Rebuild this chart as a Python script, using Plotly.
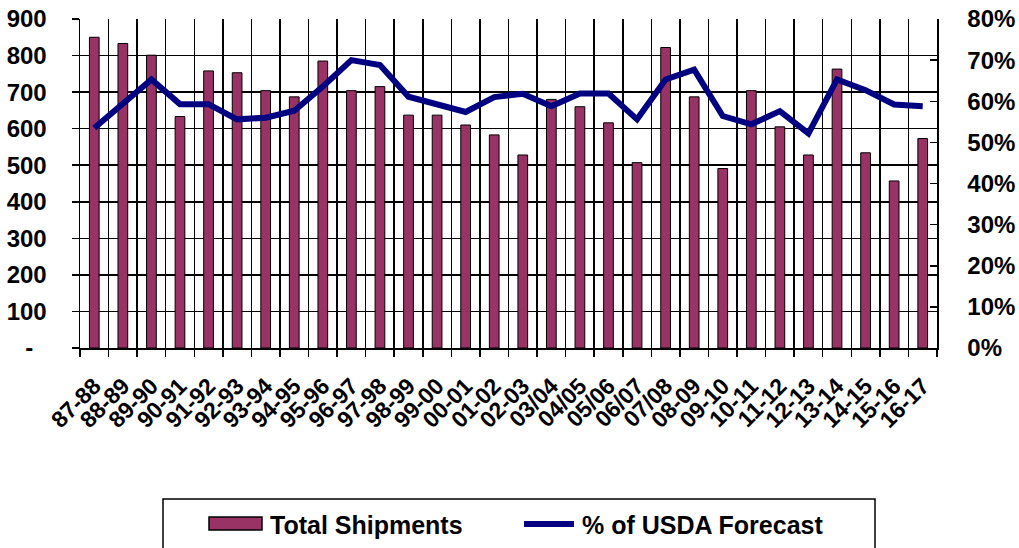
import plotly.graph_objects as go

seasons = ["87-88", "88-89", "89-90", "90-91", "91-92", "92-93", "93-94", "94-95", "95-96",
           "96-97", "97-98", "98-99", "99-00", "00-01", "01-02", "02-03", "03/04", "04/05",
           "05/06", "06/07", "07/08", "08-09", "09-10", "10-11", "11-12", "12-13", "13-14",
           "14-15", "15-16", "16-17"]
total_shipments = [850, 833, 801, 633, 758, 753, 704, 687, 785, 704, 715, 637, 637, 610, 583,
                   528, 680, 660, 616, 507, 822, 687, 491, 704, 605, 528, 763, 534, 457, 573]
pct_usda = [53.5, 59.4, 65.3, 59.3, 59.3, 55.6, 56.0, 57.7, 63.6, 70.0, 68.8, 61.1, 59.3, 57.4,
            61.0, 61.8, 58.8, 61.9, 61.9, 55.6, 65.3, 67.7, 56.4, 54.4, 57.6, 52.2, 65.3, 62.7,
            59.2, 58.8]
left_ticks = [0, 100, 200, 300, 400, 500, 600, 700, 800, 900]
left_ticktext = ["-\u00a0\u00a0", "100", "200", "300", "400", "500", "600", "700", "800", "900"]
right_ticks = [0, 10, 20, 30, 40, 50, 60, 70, 80]
right_ticktext = [f"{v}%" for v in right_ticks]
series_names = ["Total Shipments", "% of USDA Forecast"]

FONT = "Liberation Sans, Arial, sans-serif"
BAR_COLOR = "#993366"
LINE_COLOR = "#000080"

W, H = 1019, 548
L, R, T, B = 80, 82, 19, 200
pw = W - L - R
ph = H - T - B


def px_x(px):
    return (px - L) / pw


def px_y(py):
    return (H - B - py) / ph


fig = go.Figure()
fig.add_trace(go.Bar(
    x=seasons, y=total_shipments, name=series_names[0],
    marker=dict(color=BAR_COLOR, line=dict(color="black", width=1)),
    width=0.34, yaxis="y", showlegend=False,
))
fig.add_trace(go.Scatter(
    x=seasons, y=pct_usda, name=series_names[1], mode="lines",
    line=dict(color=LINE_COLOR, width=6), yaxis="y2", showlegend=False,
))

axis_common = dict(tickcolor="black", tickwidth=1.5, showline=True, linecolor="black",
                   linewidth=1.5, automargin=False)

fig.update_layout(
    width=W, height=H,
    margin=dict(l=L, r=R, t=T, b=B, autoexpand=False),
    paper_bgcolor="white", plot_bgcolor="white",
    font=dict(family=FONT, color="black"),
    showlegend=False,
    xaxis=dict(
        type="category", tickson="boundaries", showgrid=True, gridcolor="black", gridwidth=1.5,
        tickmode="linear", tick0=0, dtick=1,
        ticks="outside", ticklen=7, tickangle=-45,
        tickfont=dict(size=23, family=FONT, weight="bold"), ticklabelstandoff=14,
        range=[-0.5, len(seasons) - 0.5], **axis_common,
    ),
    yaxis=dict(
        range=[0, 900], tickvals=left_ticks, ticktext=left_ticktext,
        showgrid=True, gridcolor="black", gridwidth=1.5,
        ticks="outside", ticklen=7,
        tickfont=dict(size=24, family=FONT, weight="bold"), ticklabelstandoff=20,
        zeroline=False, **axis_common,
    ),
    yaxis2=dict(
        range=[0, 80], overlaying="y", side="right",
        tickvals=right_ticks, ticktext=right_ticktext,
        showgrid=False, ticks="inside", ticklen=7,
        tickfont=dict(size=24, family=FONT, weight="bold"), ticklabelstandoff=24,
        zeroline=False, **axis_common,
    ),
    shapes=[
        dict(type="rect", xref="paper", yref="paper",
             x0=px_x(163), x1=px_x(875), y0=px_y(560), y1=px_y(499),
             line=dict(color="black", width=1.5), fillcolor="rgba(0,0,0,0)"),
        dict(type="rect", xref="paper", yref="paper",
             x0=px_x(209), x1=px_x(262), y0=px_y(530), y1=px_y(517),
             line=dict(color="black", width=1.5), fillcolor=BAR_COLOR),
        dict(type="line", xref="paper", yref="paper",
             x0=px_x(524), x1=px_x(574), y0=px_y(524), y1=px_y(524),
             line=dict(color=LINE_COLOR, width=6)),
    ],
    annotations=[
        dict(text=series_names[0], xref="paper", yref="paper", x=px_x(268), y=px_y(525),
             xanchor="left", yanchor="middle", showarrow=False,
             font=dict(size=25, family=FONT, weight="bold", color="black")),
        dict(text=series_names[1], xref="paper", yref="paper", x=px_x(580), y=px_y(525),
             xanchor="left", yanchor="middle", showarrow=False,
             font=dict(size=25, family=FONT, weight="bold", color="black")),
    ],
)

fig.write_html("out.html", config={"displayModeBar": False, "staticPlot": True},
               post_script="document.body.style.margin='0';document.body.style.overflow='hidden';")
